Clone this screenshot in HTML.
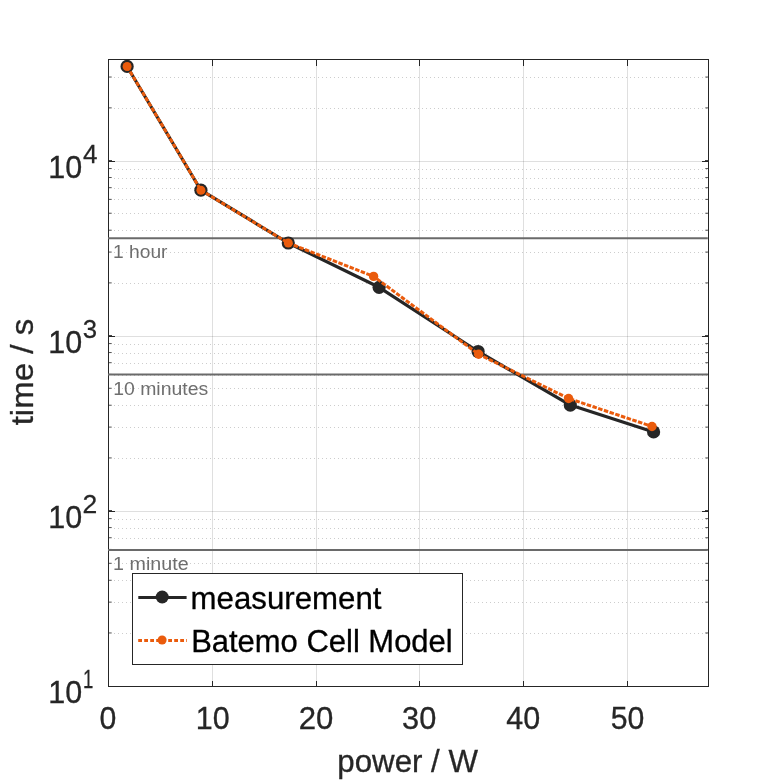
<!DOCTYPE html>
<html lang="en"><head><meta charset="utf-8"><title>time vs power</title>
<style>html,body{margin:0;padding:0;background:#fff;overflow:hidden}svg{display:block}text{font-family:"Liberation Sans",sans-serif}</style>
</head><body>
<svg width="781" height="781" viewBox="0 0 781 781">
<rect width="781" height="781" fill="#fff"/>
<g stroke="#262626" stroke-opacity="0.15" stroke-width="1" shape-rendering="crispEdges">
<line x1="212.5" y1="59.5" x2="212.5" y2="686.5"/>
<line x1="316.5" y1="59.5" x2="316.5" y2="686.5"/>
<line x1="419.5" y1="59.5" x2="419.5" y2="686.5"/>
<line x1="523.5" y1="59.5" x2="523.5" y2="686.5"/>
<line x1="627.5" y1="59.5" x2="627.5" y2="686.5"/>
<line x1="108.5" y1="511.5" x2="708.5" y2="511.5"/>
<line x1="108.5" y1="336.5" x2="708.5" y2="336.5"/>
<line x1="108.5" y1="161.5" x2="708.5" y2="161.5"/>
</g>
<g stroke="#262626" stroke-opacity="0.23" stroke-width="1" stroke-dasharray="1 3" shape-rendering="crispEdges">
<line x1="114" y1="633.5" x2="707.5" y2="633.5"/>
<line x1="114" y1="602.5" x2="707.5" y2="602.5"/>
<line x1="114" y1="580.5" x2="707.5" y2="580.5"/>
<line x1="114" y1="563.5" x2="707.5" y2="563.5"/>
<line x1="114" y1="550.5" x2="707.5" y2="550.5"/>
<line x1="114" y1="538.5" x2="707.5" y2="538.5"/>
<line x1="114" y1="528.5" x2="707.5" y2="528.5"/>
<line x1="114" y1="519.5" x2="707.5" y2="519.5"/>
<line x1="114" y1="458.5" x2="707.5" y2="458.5"/>
<line x1="114" y1="427.5" x2="707.5" y2="427.5"/>
<line x1="114" y1="405.5" x2="707.5" y2="405.5"/>
<line x1="114" y1="388.5" x2="707.5" y2="388.5"/>
<line x1="114" y1="375.5" x2="707.5" y2="375.5"/>
<line x1="114" y1="363.5" x2="707.5" y2="363.5"/>
<line x1="114" y1="353.5" x2="707.5" y2="353.5"/>
<line x1="114" y1="344.5" x2="707.5" y2="344.5"/>
<line x1="114" y1="283.5" x2="707.5" y2="283.5"/>
<line x1="114" y1="252.5" x2="707.5" y2="252.5"/>
<line x1="114" y1="230.5" x2="707.5" y2="230.5"/>
<line x1="114" y1="213.5" x2="707.5" y2="213.5"/>
<line x1="114" y1="199.5" x2="707.5" y2="199.5"/>
<line x1="114" y1="188.5" x2="707.5" y2="188.5"/>
<line x1="114" y1="178.5" x2="707.5" y2="178.5"/>
<line x1="114" y1="169.5" x2="707.5" y2="169.5"/>
<line x1="114" y1="108.5" x2="707.5" y2="108.5"/>
<line x1="114" y1="77.5" x2="707.5" y2="77.5"/>
</g>
<rect x="108.5" y="59.5" width="600.0" height="627.0" fill="none" stroke="#262626" stroke-width="1" shape-rendering="crispEdges"/>
<g stroke="#262626" stroke-width="1" shape-rendering="crispEdges">
<line x1="212.5" y1="686.5" x2="212.5" y2="680.5"/>
<line x1="212.5" y1="59.5" x2="212.5" y2="65.5"/>
<line x1="316.5" y1="686.5" x2="316.5" y2="680.5"/>
<line x1="316.5" y1="59.5" x2="316.5" y2="65.5"/>
<line x1="419.5" y1="686.5" x2="419.5" y2="680.5"/>
<line x1="419.5" y1="59.5" x2="419.5" y2="65.5"/>
<line x1="523.5" y1="686.5" x2="523.5" y2="680.5"/>
<line x1="523.5" y1="59.5" x2="523.5" y2="65.5"/>
<line x1="627.5" y1="686.5" x2="627.5" y2="680.5"/>
<line x1="627.5" y1="59.5" x2="627.5" y2="65.5"/>
</g>
<g stroke="#262626" stroke-width="1" shape-rendering="crispEdges">
<line x1="108.5" y1="511.5" x2="115.0" y2="511.5"/>
<line x1="708.5" y1="511.5" x2="702.0" y2="511.5"/>
<line x1="108.5" y1="510.5" x2="112.0" y2="510.5" stroke-opacity="0.85"/>
<line x1="708.5" y1="510.5" x2="705.0" y2="510.5" stroke-opacity="0.85"/>
<line x1="108.5" y1="336.5" x2="115.0" y2="336.5"/>
<line x1="708.5" y1="336.5" x2="702.0" y2="336.5"/>
<line x1="108.5" y1="335.5" x2="112.0" y2="335.5" stroke-opacity="0.85"/>
<line x1="708.5" y1="335.5" x2="705.0" y2="335.5" stroke-opacity="0.85"/>
<line x1="108.5" y1="161.5" x2="115.0" y2="161.5"/>
<line x1="708.5" y1="161.5" x2="702.0" y2="161.5"/>
<line x1="108.5" y1="160.5" x2="112.0" y2="160.5" stroke-opacity="0.85"/>
<line x1="708.5" y1="160.5" x2="705.0" y2="160.5" stroke-opacity="0.85"/>
</g>
<g stroke="#262626" stroke-width="1" stroke-opacity="0.8">
<line x1="108.5" y1="632.96" x2="111.7" y2="632.96"/>
<line x1="708.5" y1="632.96" x2="705.3" y2="632.96"/>
<line x1="108.5" y1="602.13" x2="111.7" y2="602.13"/>
<line x1="708.5" y1="602.13" x2="705.3" y2="602.13"/>
<line x1="108.5" y1="580.27" x2="111.7" y2="580.27"/>
<line x1="708.5" y1="580.27" x2="705.3" y2="580.27"/>
<line x1="108.5" y1="563.30" x2="111.7" y2="563.30"/>
<line x1="708.5" y1="563.30" x2="705.3" y2="563.30"/>
<line x1="108.5" y1="549.45" x2="111.7" y2="549.45"/>
<line x1="708.5" y1="549.45" x2="705.3" y2="549.45"/>
<line x1="108.5" y1="537.73" x2="111.7" y2="537.73"/>
<line x1="708.5" y1="537.73" x2="705.3" y2="537.73"/>
<line x1="108.5" y1="527.58" x2="111.7" y2="527.58"/>
<line x1="708.5" y1="527.58" x2="705.3" y2="527.58"/>
<line x1="108.5" y1="518.62" x2="111.7" y2="518.62"/>
<line x1="708.5" y1="518.62" x2="705.3" y2="518.62"/>
<line x1="108.5" y1="457.93" x2="111.7" y2="457.93"/>
<line x1="708.5" y1="457.93" x2="705.3" y2="457.93"/>
<line x1="108.5" y1="427.10" x2="111.7" y2="427.10"/>
<line x1="708.5" y1="427.10" x2="705.3" y2="427.10"/>
<line x1="108.5" y1="405.24" x2="111.7" y2="405.24"/>
<line x1="708.5" y1="405.24" x2="705.3" y2="405.24"/>
<line x1="108.5" y1="388.27" x2="111.7" y2="388.27"/>
<line x1="708.5" y1="388.27" x2="705.3" y2="388.27"/>
<line x1="108.5" y1="374.42" x2="111.7" y2="374.42"/>
<line x1="708.5" y1="374.42" x2="705.3" y2="374.42"/>
<line x1="108.5" y1="362.70" x2="111.7" y2="362.70"/>
<line x1="708.5" y1="362.70" x2="705.3" y2="362.70"/>
<line x1="108.5" y1="352.55" x2="111.7" y2="352.55"/>
<line x1="708.5" y1="352.55" x2="705.3" y2="352.55"/>
<line x1="108.5" y1="343.59" x2="111.7" y2="343.59"/>
<line x1="708.5" y1="343.59" x2="705.3" y2="343.59"/>
<line x1="108.5" y1="282.90" x2="111.7" y2="282.90"/>
<line x1="708.5" y1="282.90" x2="705.3" y2="282.90"/>
<line x1="108.5" y1="252.07" x2="111.7" y2="252.07"/>
<line x1="708.5" y1="252.07" x2="705.3" y2="252.07"/>
<line x1="108.5" y1="230.21" x2="111.7" y2="230.21"/>
<line x1="708.5" y1="230.21" x2="705.3" y2="230.21"/>
<line x1="108.5" y1="213.24" x2="111.7" y2="213.24"/>
<line x1="708.5" y1="213.24" x2="705.3" y2="213.24"/>
<line x1="108.5" y1="199.39" x2="111.7" y2="199.39"/>
<line x1="708.5" y1="199.39" x2="705.3" y2="199.39"/>
<line x1="108.5" y1="187.67" x2="111.7" y2="187.67"/>
<line x1="708.5" y1="187.67" x2="705.3" y2="187.67"/>
<line x1="108.5" y1="177.52" x2="111.7" y2="177.52"/>
<line x1="708.5" y1="177.52" x2="705.3" y2="177.52"/>
<line x1="108.5" y1="168.56" x2="111.7" y2="168.56"/>
<line x1="708.5" y1="168.56" x2="705.3" y2="168.56"/>
<line x1="108.5" y1="107.87" x2="111.7" y2="107.87"/>
<line x1="708.5" y1="107.87" x2="705.3" y2="107.87"/>
<line x1="108.5" y1="77.04" x2="111.7" y2="77.04"/>
<line x1="708.5" y1="77.04" x2="705.3" y2="77.04"/>
</g>
<g stroke="#6a6a6a" stroke-width="2">
<line x1="108.0" y1="238.2" x2="707.8" y2="238.2"/>
<line x1="108.0" y1="374.6" x2="707.8" y2="374.6"/>
<line x1="108.0" y1="549.9" x2="707.8" y2="549.9"/>
</g>
<text id="a1" x="113.07" y="258.00" font-size="18.9" fill="#6e6e6e" stroke="#6e6e6e" stroke-width="0.00" textLength="54.45" lengthAdjust="spacingAndGlyphs">1 hour</text>
<text id="a2" x="113.24" y="395.00" font-size="18.9" fill="#6e6e6e" stroke="#6e6e6e" stroke-width="0.00" textLength="94.91" lengthAdjust="spacingAndGlyphs">10 minutes</text>
<text id="a3" x="113.14" y="570.00" font-size="18.9" fill="#6e6e6e" stroke="#6e6e6e" stroke-width="0.00" textLength="75.46" lengthAdjust="spacingAndGlyphs">1 minute</text>
<polyline points="127.1,66.45 200.9,190.2 288.3,243.0 379.1,287.3 478.1,351.5 570.3,405.1 653.6,431.9" fill="none" stroke="#262626" stroke-width="3.2" stroke-linejoin="round"/>
<circle cx="127.1" cy="66.45" r="6.6" fill="#262626"/>
<circle cx="200.9" cy="190.2" r="6.6" fill="#262626"/>
<circle cx="288.3" cy="243.0" r="6.6" fill="#262626"/>
<circle cx="379.1" cy="287.3" r="6.6" fill="#262626"/>
<circle cx="478.1" cy="351.5" r="6.6" fill="#262626"/>
<circle cx="570.3" cy="405.1" r="6.6" fill="#262626"/>
<circle cx="653.6" cy="431.9" r="6.6" fill="#262626"/>
<polyline points="127.1,66.45 200.9,190.2 288.3,243.0 373.6,276.4 478.65,354.3 568.6,398.45 652.0,426.45" fill="none" stroke="#EA5B0C" stroke-width="3" stroke-dasharray="4.5 1.5" stroke-linejoin="round"/>
<circle cx="127.1" cy="66.45" r="4.5" fill="#EA5B0C"/>
<circle cx="200.9" cy="190.2" r="4.5" fill="#EA5B0C"/>
<circle cx="288.3" cy="243.0" r="4.5" fill="#EA5B0C"/>
<circle cx="373.6" cy="276.4" r="4.7" fill="#EA5B0C"/>
<circle cx="478.65" cy="354.3" r="4.7" fill="#EA5B0C"/>
<circle cx="568.6" cy="398.45" r="4.7" fill="#EA5B0C"/>
<circle cx="652.0" cy="426.45" r="4.7" fill="#EA5B0C"/>
<text id="x0" x="99.56" y="728.80" font-size="31.6" fill="#262626" stroke="#262626" stroke-width="0.32" textLength="16.80" lengthAdjust="spacingAndGlyphs">0</text>
<text id="x10" x="195.72" y="728.80" font-size="31.6" fill="#262626" stroke="#262626" stroke-width="0.32" textLength="33.89" lengthAdjust="spacingAndGlyphs">10</text>
<text id="x20" x="298.80" y="728.80" font-size="31.6" fill="#262626" stroke="#262626" stroke-width="0.32" textLength="34.63" lengthAdjust="spacingAndGlyphs">20</text>
<text id="x30" x="402.11" y="728.80" font-size="31.6" fill="#262626" stroke="#262626" stroke-width="0.32" textLength="34.21" lengthAdjust="spacingAndGlyphs">30</text>
<text id="x40" x="506.29" y="728.80" font-size="31.6" fill="#262626" stroke="#262626" stroke-width="0.32" textLength="33.91" lengthAdjust="spacingAndGlyphs">40</text>
<text id="x50" x="610.79" y="728.80" font-size="31.6" fill="#262626" stroke="#262626" stroke-width="0.32" textLength="33.62" lengthAdjust="spacingAndGlyphs">50</text>
<text id="y1" x="48.36" y="703.00" font-size="31.6" fill="#262626" stroke="#262626" stroke-width="0.32" textLength="33.87" lengthAdjust="spacingAndGlyphs">10</text>
<text id="s1" x="83.06" y="688.00" font-size="25.8" fill="#262626" stroke="#262626" stroke-width="0.26" textLength="10.32" lengthAdjust="spacingAndGlyphs">1</text>
<text id="y2" x="48.36" y="528.00" font-size="31.6" fill="#262626" stroke="#262626" stroke-width="0.32" textLength="33.87" lengthAdjust="spacingAndGlyphs">10</text>
<text id="s2" x="82.62" y="513.00" font-size="25.8" fill="#262626" stroke="#262626" stroke-width="0.26" textLength="14.75" lengthAdjust="spacingAndGlyphs">2</text>
<text id="y3" x="48.36" y="353.00" font-size="31.6" fill="#262626" stroke="#262626" stroke-width="0.32" textLength="33.87" lengthAdjust="spacingAndGlyphs">10</text>
<text id="s3" x="82.83" y="338.00" font-size="25.8" fill="#262626" stroke="#262626" stroke-width="0.26" textLength="14.33" lengthAdjust="spacingAndGlyphs">3</text>
<text id="y4" x="48.36" y="178.00" font-size="31.6" fill="#262626" stroke="#262626" stroke-width="0.32" textLength="33.87" lengthAdjust="spacingAndGlyphs">10</text>
<text id="s4" x="83.08" y="163.00" font-size="25.8" fill="#262626" stroke="#262626" stroke-width="0.26" textLength="14.49" lengthAdjust="spacingAndGlyphs">4</text>
<text id="xl" x="337.34" y="772.20" font-size="31.0" fill="#262626" stroke="#262626" stroke-width="0.31" textLength="140.64" lengthAdjust="spacingAndGlyphs">power / W</text>
<text id="yl" transform="translate(33.2,425.36) rotate(-90)" font-size="31.0" fill="#262626" stroke="#262626" stroke-width="0.31" textLength="106.56" lengthAdjust="spacingAndGlyphs">time / s</text>
<rect x="132.5" y="573.5" width="330" height="90.5" fill="#fff" stroke="#262626" stroke-width="1" shape-rendering="crispEdges"/>
<line x1="138.3" y1="597.5" x2="186.6" y2="597.5" stroke="#262626" stroke-width="3"/>
<circle cx="162.2" cy="597" r="6.5" fill="#262626"/>
<line x1="138.2" y1="640.5" x2="186.9" y2="640.5" stroke="#EA5B0C" stroke-width="3" stroke-dasharray="3.8 2.2"/>
<circle cx="162.1" cy="640.0" r="4.5" fill="#EA5B0C"/>
<text id="l1" x="190.63" y="609.00" font-size="30.5" fill="#000" stroke="#000" stroke-width="0.30" textLength="190.81" lengthAdjust="spacingAndGlyphs">measurement</text>
<text id="l2" x="191.17" y="652.30" font-size="31.0" fill="#000" stroke="#000" stroke-width="0.31" textLength="261.53" lengthAdjust="spacingAndGlyphs">Batemo Cell Model</text>
</svg>
</body></html>
